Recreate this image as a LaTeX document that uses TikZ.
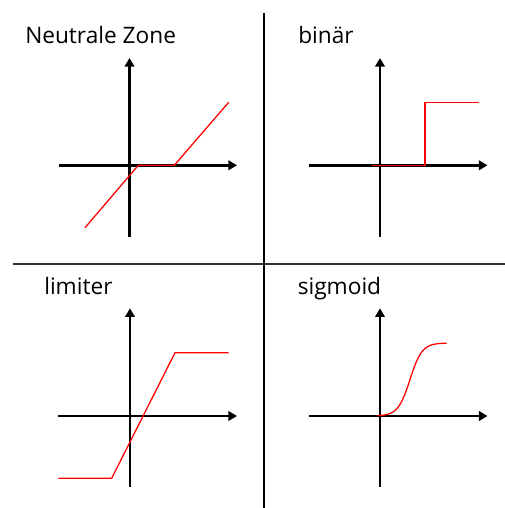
\documentclass[tikz,border=0pt]{standalone}
\usepackage{fontspec}
\setmainfont{Open Sans}
\usetikzlibrary{arrows.meta}
\begin{document}
\begin{tikzpicture}[x=0.75pt,y=-0.75pt,
  axis/.style={line width=2.1pt,-{Triangle[length=6.5pt,width=7.2pt]}},
  curve/.style={red,line width=0.95pt},
  divider/.style={line width=0.9pt,black!80},
  lbl/.style={anchor=base west,inner sep=0pt,font=\fontsize{17pt}{20pt}\selectfont}]
\useasboundingbox (0,0) rectangle (505,508);
% dividers
\coordinate (vt) at (264,13);
\coordinate (vb) at (264,508);
\coordinate (hl) at (13,264);
\coordinate (hr) at (505,264);
\draw[divider,black] (vt) -- (vb);
\draw[divider] (hl) -- (hr);
% labels
\node[lbl] (l1) at (25,43.3) {Neutrale Zone};
\node[lbl] (l2) at (298,43.3) {binär};
\node[lbl] (l3) at (44,294.5) {limiter};
\node[lbl] (l4) at (297.5,294.5) {sigmoid};
% quadrant 1
\coordinate (a1b) at (129.5,236.5);
\coordinate (a1t) at (129.5,58);
\coordinate (a1l) at (58.5,165.3);
\coordinate (a1r) at (237,165.3);
\draw[axis] (a1b) -- (a1t);
\draw[axis] (a1l) -- (a1r);
\coordinate (n1) at (85,227.7);
\coordinate (n2) at (138.3,165.3);
\coordinate (n3) at (174.3,165.3);
\coordinate (n4) at (228.7,102.3);
\draw[curve] (n1) -- (n2) -- (n3) -- (n4);
% quadrant 2
\coordinate (a2b) at (380,236.5);
\coordinate (a2t) at (380,58);
\coordinate (a2l) at (309.3,165.3);
\coordinate (a2r) at (487.5,165.3);
\draw[axis] (a2b) -- (a2t);
\draw[axis] (a2l) -- (a2r);
\coordinate (b1) at (371.7,165.3);
\coordinate (b2) at (425,165.3);
\coordinate (b3) at (425,102.7);
\coordinate (b4) at (479.3,102.7);
\draw[curve] (b1) -- (b2) -- (b3) -- (b4);
% quadrant 3
\coordinate (a3b) at (130,487);
\coordinate (a3t) at (130,308.3);
\coordinate (a3l) at (58.3,416);
\coordinate (a3r) at (237,416);
\draw[axis] (a3b) -- (a3t);
\draw[axis] (a3l) -- (a3r);
\coordinate (c1) at (58.3,478.3);
\coordinate (c2) at (111.7,478.3);
\coordinate (c3) at (175,352.7);
\coordinate (c4) at (228.7,352.7);
\draw[curve] (c1) -- (c2) -- (c3) -- (c4);
% quadrant 4
\coordinate (a4b) at (380,487);
\coordinate (a4t) at (380,308.3);
\coordinate (a4l) at (309.3,416);
\coordinate (a4r) at (487.5,416);
\draw[axis] (a4b) -- (a4t);
\draw[axis] (a4l) -- (a4r);
\draw[curve,domain=377.3:446.7,samples=60,smooth]
  plot (\x,{416-73/(1+exp(-(\x-410)/6))});
\end{tikzpicture}
\end{document}
